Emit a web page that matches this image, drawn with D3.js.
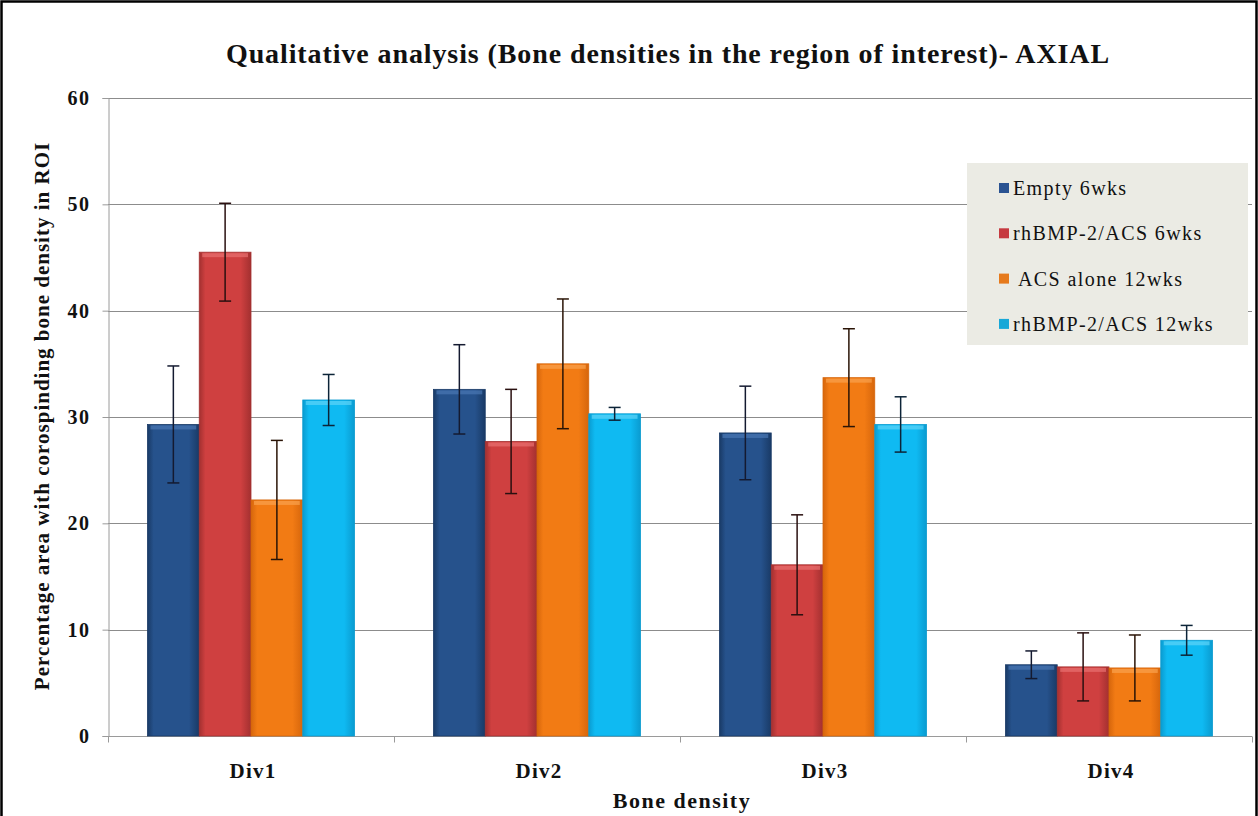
<!DOCTYPE html>
<html>
<head>
<meta charset="utf-8">
<script src="https://cdn.jsdelivr.net/npm/d3@7/dist/d3.min.js"></script>
<style>
    html, body { margin: 0; padding: 0; background: #fff; }
    svg { display: block; font-family: "Liberation Serif", "Times New Roman", serif; }
</style>
</head>
<body>
<svg id="chart" width="1258" height="816"></svg>
<script>
// values
var categories = ['Div1', 'Div2', 'Div3', 'Div4'];
var seriesNames = ['Empty 6wks', 'rhBMP-2/ACS 6wks', 'ACS alone 12wks', 'rhBMP-2/ACS 12wks'];
var empty6 = [29.3, 32.6, 28.5, 6.7];
var empty6Err = [5.5, 4.2, 4.4, 1.3];
var bmp6 = [45.5, 27.7, 16.1, 6.5];
var bmp6Err = [4.6, 4.9, 4.7, 3.2];
var acs12 = [22.2, 35.0, 33.7, 6.4];
var acs12Err = [5.6, 6.1, 4.6, 3.1];
var bmp12 = [31.6, 30.3, 29.3, 9.0];
var bmp12Err = [2.4, 0.6, 2.6, 1.4];
var yTicks = [0, 10, 20, 30, 40, 50, 60];

var values = [empty6, bmp6, acs12, bmp12];
var errors = [empty6Err, bmp6Err, acs12Err, bmp12Err];

// colours: edge / centre / top bevel
var palette = [
    {edge: '#193a66', mid: '#26528c', top: '#4a78b4', swatch: '#2a5392'},
    {edge: '#a33030', mid: '#cf4040', top: '#e87070', swatch: '#c63a40'},
    {edge: '#d6660c', mid: '#f27b14', top: '#f9a24e', swatch: '#e67a1c'},
    {edge: '#0a9bd0', mid: '#0fbaf2', top: '#60d4f8', swatch: '#18a8d8'}
];
var errColor = ['#141a30', '#2a1010', '#2a1406', '#0c2438'];

var svg = d3.select('#chart');
var margin = {left: 108, right: 1252, top: 98, bottom: 736};

var x0 = d3.scaleBand()
    .domain(categories)
    .range([margin.left, margin.right])
    .paddingInner(0.276)
    .paddingOuter(0.138);

var x1 = d3.scaleBand()
    .domain(d3.range(seriesNames.length))
    .range([0, x0.bandwidth()])
    .padding(0);

var y = d3.scaleLinear()
    .domain([0, 60])
    .range([margin.bottom, margin.top]);

// gradients for bars
var defs = svg.append('defs');
palette.forEach(function(c, i) {
    var g = defs.append('linearGradient')
        .attr('id', 'bar' + i)
        .attr('x1', '0%').attr('x2', '100%')
        .attr('y1', '0%').attr('y2', '0%');
    g.append('stop').attr('offset', '0%').attr('stop-color', c.edge);
    g.append('stop').attr('offset', '12%').attr('stop-color', c.mid);
    g.append('stop').attr('offset', '80%').attr('stop-color', c.mid);
    g.append('stop').attr('offset', '100%').attr('stop-color', c.edge);
});

// gridlines
svg.append('g')
    .selectAll('line')
    .data(yTicks.slice(1))
    .join('line')
    .attr('x1', margin.left)
    .attr('x2', margin.right)
    .attr('y1', function(d) { return Math.round(y(d)) + 0.5; })
    .attr('y2', function(d) { return Math.round(y(d)) + 0.5; })
    .attr('stroke', '#8c8c8c')
    .attr('stroke-width', 1);

// y axis
var yAxis = svg.append('g')
    .attr('transform', 'translate(' + (margin.left + 0.5) + ',0)')
    .call(d3.axisLeft(y).tickValues(yTicks).tickSize(6).tickPadding(12));
yAxis.select('.domain').attr('stroke', '#9a9a9a');
yAxis.selectAll('.tick line').attr('stroke', '#9a9a9a');
yAxis.selectAll('.tick text')
    .attr('font-family', '"Liberation Serif", serif')
    .attr('font-size', 20)
    .attr('font-weight', 'bold')
    .attr('letter-spacing', 1.5)
    .attr('fill', '#111');

// x axis: ticks at category boundaries
var xAxis = svg.append('g')
    .attr('transform', 'translate(0,' + (margin.bottom + 0.5) + ')');
xAxis.append('line')
    .attr('x1', margin.left).attr('x2', margin.right)
    .attr('stroke', '#9a9a9a');
xAxis.selectAll('line.bnd')
    .data(d3.range(categories.length + 1))
    .join('line')
    .attr('class', 'bnd')
    .attr('x1', function(i) { return margin.left + i * x0.step() + 0.5; })
    .attr('x2', function(i) { return margin.left + i * x0.step() + 0.5; })
    .attr('y1', 0).attr('y2', 6)
    .attr('stroke', '#9a9a9a');
xAxis.selectAll('text')
    .data(categories)
    .join('text')
    .attr('x', function(d) { return x0(d) + x0.bandwidth() / 2 + 2; })
    .attr('y', 41)
    .attr('text-anchor', 'middle')
    .attr('font-size', 21)
    .attr('font-weight', 'bold')
    .attr('letter-spacing', 1.2)
    .attr('fill', '#111')
    .text(function(d) { return d; });

// bars
var groups = svg.append('g')
    .selectAll('g')
    .data(categories)
    .join('g')
    .attr('transform', function(d) { return 'translate(' + x0(d) + ',0)'; });

groups.each(function(cat, ci) {
    var g = d3.select(this);
    seriesNames.forEach(function(name, si) {
        var v = values[si][ci];
        var bx = x1(si);
        var bw = x1.bandwidth();
        g.append('rect')
            .attr('x', bx)
            .attr('y', y(v))
            .attr('width', bw)
            .attr('height', y(0) - y(v))
            .attr('fill', 'url(#bar' + si + ')')
            .attr('stroke', palette[si].edge)
            .attr('stroke-width', 0.8);
        // top bevel
        g.append('rect')
            .attr('x', bx + 3)
            .attr('y', y(v) + 1)
            .attr('width', bw - 6)
            .attr('height', 4)
            .attr('fill', palette[si].top)
            .attr('opacity', 0.7);
    });
});

// error bars
groups.each(function(cat, ci) {
    var g = d3.select(this);
    seriesNames.forEach(function(name, si) {
        var v = values[si][ci];
        var e = errors[si][ci];
        var cx = x1(si) + x1.bandwidth() / 2;
        var col = errColor[si];
        g.append('line')
            .attr('x1', cx).attr('x2', cx)
            .attr('y1', y(v + e)).attr('y2', y(v - e))
            .attr('stroke', col).attr('stroke-width', 1.5);
        [v + e, v - e].forEach(function(end) {
            g.append('line')
                .attr('x1', cx - 6).attr('x2', cx + 6)
                .attr('y1', y(end)).attr('y2', y(end))
                .attr('stroke', col).attr('stroke-width', 1.5);
        });
    });
});

// title and axis titles
svg.append('text')
    .attr('x', 668)
    .attr('y', 63)
    .attr('text-anchor', 'middle')
    .attr('font-size', 28)
    .attr('font-weight', 'bold')
    .attr('letter-spacing', 0.9)
    .attr('fill', '#111')
    .text('Qualitative analysis (Bone densities in the region of interest)- AXIAL');

svg.append('text')
    .attr('x', 682)
    .attr('y', 808)
    .attr('text-anchor', 'middle')
    .attr('font-size', 22)
    .attr('font-weight', 'bold')
    .attr('letter-spacing', 1.5)
    .attr('fill', '#111')
    .text('Bone density');

svg.append('text')
    .attr('transform', 'translate(49,416) rotate(-90)')
    .attr('text-anchor', 'middle')
    .attr('font-size', 21)
    .attr('font-weight', 'bold')
    .attr('letter-spacing', 1)
    .attr('fill', '#111')
    .text('Percentage area with corospinding bone density in ROI');

// legend
var legend = svg.append('g').attr('transform', 'translate(967,163)');
legend.append('rect')
    .attr('width', 281)
    .attr('height', 182)
    .attr('fill', '#ebebe4');
var rows = legend.selectAll('g')
    .data(seriesNames)
    .join('g')
    .attr('transform', function(d, i) { return 'translate(0,' + (25 + i * 45.3) + ')'; });
rows.append('rect')
    .attr('x', 32).attr('y', -5)
    .attr('width', 10).attr('height', 10)
    .attr('fill', function(d, i) { return palette[i].swatch; });
rows.append('text')
    .attr('x', function(d, i) { return i === 2 ? 51 : 46; })
    .attr('y', 7)
    .attr('font-size', 20)
    .attr('letter-spacing', 1.4)
    .attr('fill', '#111')
    .text(function(d) { return d; });

// outer frame: left, top and right edges
svg.append('path')
    .attr('d', 'M1.5,816V1.5H1256.5V816')
    .attr('fill', 'none')
    .attr('stroke', '#000')
    .attr('stroke-width', 2.5);
</script>
</body>
</html>
